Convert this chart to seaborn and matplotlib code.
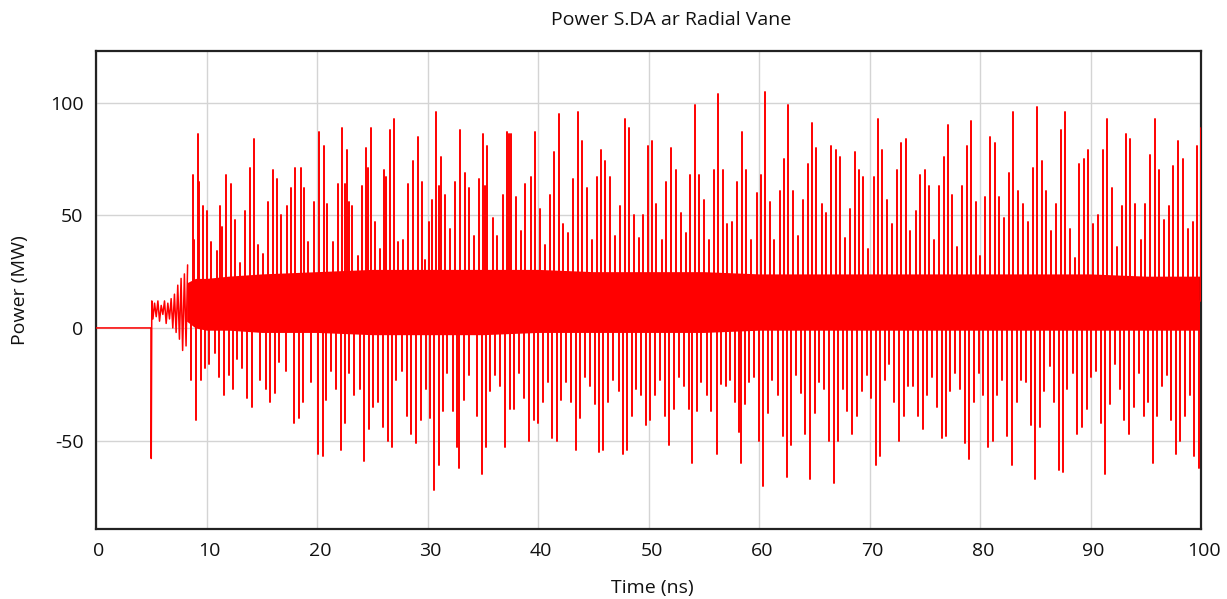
import matplotlib
matplotlib.use("Agg")
import matplotlib.pyplot as plt
import matplotlib.transforms as mtransforms
import seaborn as sns
import pandas as pd
import numpy as np

# ---------------- data ----------------
title = "Power S.DA ar Radial Vane"
x_label = "Time (ns)"
y_label = "Power (MW)"
x_ticks = [0, 10, 20, 30, 40, 50, 60, 70, 80, 90, 100]
y_ticks = [-50, 0, 50, 100]

# quiet start and first transient
start_t = [0.0, 4.98, 5.0, 5.05]
start_v = [0.0, 0.0, -58.0, 12.0]

# early small oscillation (ns, MW)
early_t = [5.15, 5.3, 5.45, 5.6, 5.75, 5.9, 6.05, 6.2, 6.35, 6.5, 6.65, 6.8,
           6.95, 7.1, 7.25, 7.4, 7.55, 7.7, 7.84, 8.0, 8.15, 8.29]
early_v = [4, 11, 5, 12, 3, 10, 6, 12, 2, 11, 4, 13, 0, 15, -2, 19, -5, 22,
           -10, 24, -8, 28]

# level the spikes rise from (middle of the dense core)
spike_base = 12

# positive spikes
pos_t = [8.74, 8.89, 9.25, 9.34, 9.64, 10.06, 10.45, 10.96, 11.26, 11.41,
         11.74, 12.19, 12.61, 13.0, 13.45, 13.9, 14.29, 14.65, 15.14, 15.53, 15.98,
         16.37, 16.76, 17.33, 17.69, 18.05, 18.53, 18.86, 19.16, 19.76, 20.21,
         20.65, 20.95, 21.46, 21.9, 22.27, 22.5, 22.7, 22.9, 23.18, 23.67, 24.06,
         24.4, 24.6, 24.87, 25.26, 25.7, 26.08, 26.26, 26.6, 26.98, 27.35, 27.8,
         28.25, 28.66, 29.1, 29.5, 29.76, 30.1, 30.4, 30.8, 31.0, 31.2, 31.57,
         32.05, 32.5, 32.9, 33.35, 33.77, 34.2, 34.66, 35.04, 35.2, 35.4, 35.9,
         36.3, 36.8, 37.2, 37.36, 37.6, 38.04, 38.44, 38.86, 39.4, 39.76, 40.15,
         40.67, 41.06, 41.45, 41.87, 42.27, 42.72, 43.17, 43.6, 44.0, 44.4, 44.86,
         45.3, 45.67, 46.1, 46.5, 46.94, 47.4, 47.85, 48.2, 48.66, 49.1, 49.5,
         49.96, 50.35, 50.7, 51.23, 51.6, 52.07, 52.5, 52.9, 53.37, 53.8, 54.2,
         54.56, 55.0, 55.5, 55.92, 56.3, 56.7, 57.13, 57.6, 58.0, 58.42, 58.8,
         59.27, 59.78, 60.14, 60.5, 60.96, 61.4, 61.86, 62.22, 62.6, 63.04, 63.5,
         63.94, 64.4, 64.8, 65.2, 65.66, 66.06, 66.5, 67.0, 67.3, 67.77, 68.2,
         68.65, 69.04, 69.43, 69.9, 70.4, 70.76, 71.13, 71.55, 72.0, 72.46, 72.88,
         73.27, 73.66, 74.18, 74.57, 75.0, 75.4, 75.84, 76.32, 76.7, 77.1, 77.5,
         77.95, 78.37, 78.8, 79.2, 79.64, 80.0, 80.48, 80.9, 81.36, 81.72, 82.2,
         82.65, 83.02, 83.4, 83.86, 84.3, 84.77, 85.16, 85.58, 86.0, 86.4, 86.85,
         87.3, 87.7, 88.15, 88.6, 89.0, 89.42, 89.81, 90.24, 90.72, 91.11, 91.5,
         91.93, 92.38, 92.86, 93.25, 93.6, 94.07, 94.55, 94.97, 95.4, 95.8, 96.2,
         96.66, 97.08, 97.5, 97.96, 98.35, 98.8, 99.26, 99.62, 99.96]
pos_v = [68, 39, 86, 65, 54, 52, 38, 34, 54, 45,
         68, 64, 48, 29, 52, 71, 84, 37, 33, 56, 70,
         66, 50, 54, 62, 71, 71, 62, 38, 56, 87,
         81, 55, 38, 64, 89, 64, 79, 56, 54, 32, 63,
         80, 71, 89, 47, 35, 70, 67, 88, 93, 38, 39,
         64, 74, 85, 65, 30, 47, 57, 96, 63, 76, 59,
         44, 65, 88, 69, 62, 41, 66, 86, 63, 81, 49,
         41, 59, 87, 86, 86, 58, 43, 64, 67, 87, 53,
         37, 59, 78, 95, 46, 42, 66, 96, 83, 62, 39,
         67, 79, 74, 67, 41, 54, 93, 89, 50, 40, 50,
         81, 83, 55, 39, 65, 80, 70, 51, 42, 68, 99,
         68, 57, 39, 70, 104, 70, 46, 47, 65, 87, 70,
         39, 60, 68, 105, 56, 39, 61, 75, 99, 61, 41,
         57, 73, 91, 80, 55, 51, 81, 79, 76, 40, 53,
         78, 70, 67, 35, 67, 93, 79, 57, 46, 70, 82,
         84, 43, 52, 68, 70, 63, 39, 63, 76, 90, 59,
         36, 63, 81, 92, 56, 32, 58, 85, 82, 58, 49,
         69, 96, 61, 55, 47, 71, 98, 74, 61, 43, 55,
         88, 96, 44, 31, 73, 75, 79, 46, 50, 79, 93,
         62, 36, 54, 86, 84, 55, 39, 55, 77, 93, 70,
         48, 54, 72, 83, 75, 44, 47, 81, 89]

# negative spikes
neg_t = [8.56, 9.04, 9.46, 9.85, 10.24, 10.75, 11.14, 11.59, 12.01, 12.4,
         12.8, 13.2, 13.69, 14.08, 14.86, 15.41, 15.77, 16.22, 16.6, 17.15, 17.9,
         18.35, 18.71, 19.46, 20.06, 20.5, 20.8, 21.25, 21.7, 22.16, 22.5, 22.9,
         23.36, 23.88, 24.27, 24.7, 25.1, 25.56, 25.96, 26.4, 26.83, 27.16, 27.65,
         28.1, 28.5, 29.0, 29.37, 29.85, 30.2, 30.6, 31.05, 31.4, 31.8, 32.3, 32.7,
         32.85, 33.3, 33.8, 34.5, 34.9, 35.25, 35.65, 36.1, 36.6, 37.0, 37.5, 37.8,
         38.25, 38.77, 39.2, 39.6, 40.0, 40.46, 40.9, 41.27, 41.75, 42.1, 42.57,
         43.0, 43.4, 43.8, 44.26, 44.74, 45.16, 45.5, 45.9, 46.3, 46.8, 47.3, 47.7,
         48.06, 48.5, 48.9, 49.35, 49.75, 50.1, 50.56, 51.0, 51.5, 51.9, 52.3,
         52.76, 53.2, 53.64, 53.97, 54.35, 54.74, 55.26, 55.7, 56.16, 56.55, 56.98,
         57.4, 57.8, 58.15, 58.33, 58.72, 59.1, 59.57, 60.0, 60.4, 60.8, 61.2, 61.7,
         62.13, 62.5, 62.9, 63.37, 63.8, 64.2, 64.64, 65.03, 65.45, 65.9, 66.33,
         66.75, 67.14, 67.6, 68.0, 68.44, 68.9, 69.3, 69.74, 70.13, 70.6, 70.97,
         71.37, 71.8, 72.25, 72.7, 73.12, 73.5, 73.97, 74.42, 74.8, 75.23, 75.7,
         76.1, 76.56, 76.92, 77.3, 77.74, 78.2, 78.67, 79.03, 79.5, 79.9, 80.3,
         80.7, 81.15, 81.57, 82.0, 82.47, 82.87, 83.32, 83.74, 84.13, 84.6, 84.98,
         85.43, 85.82, 86.3, 86.73, 87.18, 87.5, 87.9, 88.4, 88.82, 89.24, 89.66,
         90.05, 90.5, 90.96, 91.35, 91.77, 92.2, 92.68, 93.07, 93.46, 93.9, 94.37,
         94.8, 95.2, 95.64, 96.03, 96.48, 96.9, 97.3, 97.75, 98.1, 98.53, 98.98,
         99.4, 99.8]
neg_v = [-23, -41, -23, -18, -16, -11, -22, -30, -21, -27,
         -14, -18, -31, -35, -23, -27, -33, -29, -15, -19, -42,
         -40, -33, -24, -56, -57, -32, -19, -27, -54, -42, -20,
         -30, -27, -59, -45, -35, -33, -44, -50, -53, -23, -19,
         -39, -47, -51, -41, -27, -40, -72, -61, -37, -20, -37, -53,
         -62, -32, -21, -39, -65, -53, -28, -21, -26, -53, -36, -36,
         -20, -31, -50, -41, -42, -33, -24, -49, -50, -32, -24,
         -33, -54, -40, -22, -26, -34, -55, -54, -33, -23, -28, -56,
         -54, -39, -27, -30, -43, -41, -30, -23, -39, -52, -36,
         -22, -26, -36, -60, -37, -24, -30, -37, -56, -25, -26,
         -23, -33, -46, -60, -34, -24, -22, -50, -70, -38, -23, -30,
         -48, -66, -52, -21, -29, -47, -67, -38, -24, -27, -50,
         -69, -50, -27, -37, -47, -39, -28, -21, -31, -61, -57,
         -23, -16, -33, -50, -39, -26, -26, -39, -45, -30, -22,
         -35, -49, -48, -28, -20, -27, -51, -58, -33, -20, -30,
         -53, -50, -30, -23, -48, -61, -33, -23, -24, -43, -67,
         -44, -28, -17, -33, -63, -64, -27, -20, -47, -44, -36,
         -22, -19, -42, -65, -34, -16, -27, -41, -47, -35, -20,
         -39, -33, -60, -39, -26, -21, -41, -56, -50, -39, -30,
         -57, -62]

# dense core band envelope
band_t = [8.2, 9, 10, 12, 15, 20, 25, 30, 35, 40, 45, 50, 55, 60, 65, 70, 75,
          80, 85, 90, 95, 100]
band_hi = [20, 22, 22, 23, 24, 25, 26, 26, 26, 26, 25, 25, 25, 24, 24, 24, 24,
           24, 24, 24, 23, 23]
band_lo = [3, 0, -1, -1, -2, -2, -3, -3, -3, -2, -2, -2, -2, -1, -1, -1, -1,
           -1, -1, -1, -1, -1]

# ---------------- build the marks ----------------
lead = pd.DataFrame({"t": start_t + early_t, "v": start_v + early_v})

spk_t = pos_t + neg_t
spk_v = pos_v + neg_v
spikes = pd.DataFrame({
    "t": np.repeat(spk_t, 2),
    "v": np.ravel(np.column_stack([np.full(len(spk_v), spike_base), spk_v])),
    "id": np.repeat(np.arange(len(spk_t)), 2),
})

sns.set_theme(style="white")
plt.rcParams["font.family"] = ["Open Sans", "DejaVu Sans"]

W, H = 1227, 599
fig = plt.figure(figsize=(W / 100, H / 100), dpi=100)
left, right, top, bottom = 96, 1201, 51, 529
ax = fig.add_axes([left / W, 1 - bottom / H, (right - left) / W, (bottom - top) / H])

red = "#ff0000"
ax.fill_between(band_t, band_lo, band_hi, color=red, lw=0, zorder=2)
sns.lineplot(data=lead, x="t", y="v", ax=ax, sort=False, estimator=None,
             color=red, linewidth=1.1, zorder=3)
sns.lineplot(data=spikes, x="t", y="v", units="id", ax=ax, sort=False,
             estimator=None, color=red, linewidth=1.4, zorder=3)

ax.set_xlim(0, 100)
ax.set_ylim(-89.3, 123)
ax.set_xticks(x_ticks)
ax.set_yticks(y_ticks)
ax.set_xticklabels([str(v) for v in x_ticks])
ax.set_yticklabels([str(v) for v in y_ticks])
ax.grid(True, color="#d4d4d4", linewidth=1.0, zorder=0)
ax.set_axisbelow(True)
for s in ax.spines.values():
    s.set_color("#222222")
    s.set_linewidth(1.6)
ax.tick_params(axis="both", which="major", direction="out", length=5, width=1.2,
               color="#333333", labelsize=14, labelcolor="#111111")
ax.tick_params(axis="x", pad=4)
ax.tick_params(axis="y", pad=4)
ax.set_xlabel("")
ax.set_ylabel("")
shift = mtransforms.ScaledTranslation(3 / 100, 0, fig.dpi_scale_trans)
for lab in ax.get_xticklabels():
    lab.set_transform(lab.get_transform() + shift)

fig.text(671 / W, 1 - 20 / H, title, ha="center", va="center", fontsize=14, color="#111111")
fig.text(652 / W, 1 - 588 / H, x_label, ha="center", va="center", fontsize=14, color="#111111")
fig.text(20 / W, 1 - 290 / H, y_label, ha="center", va="center", rotation=90,
         fontsize=14, color="#111111")

fig.savefig("out.png", dpi=100)
